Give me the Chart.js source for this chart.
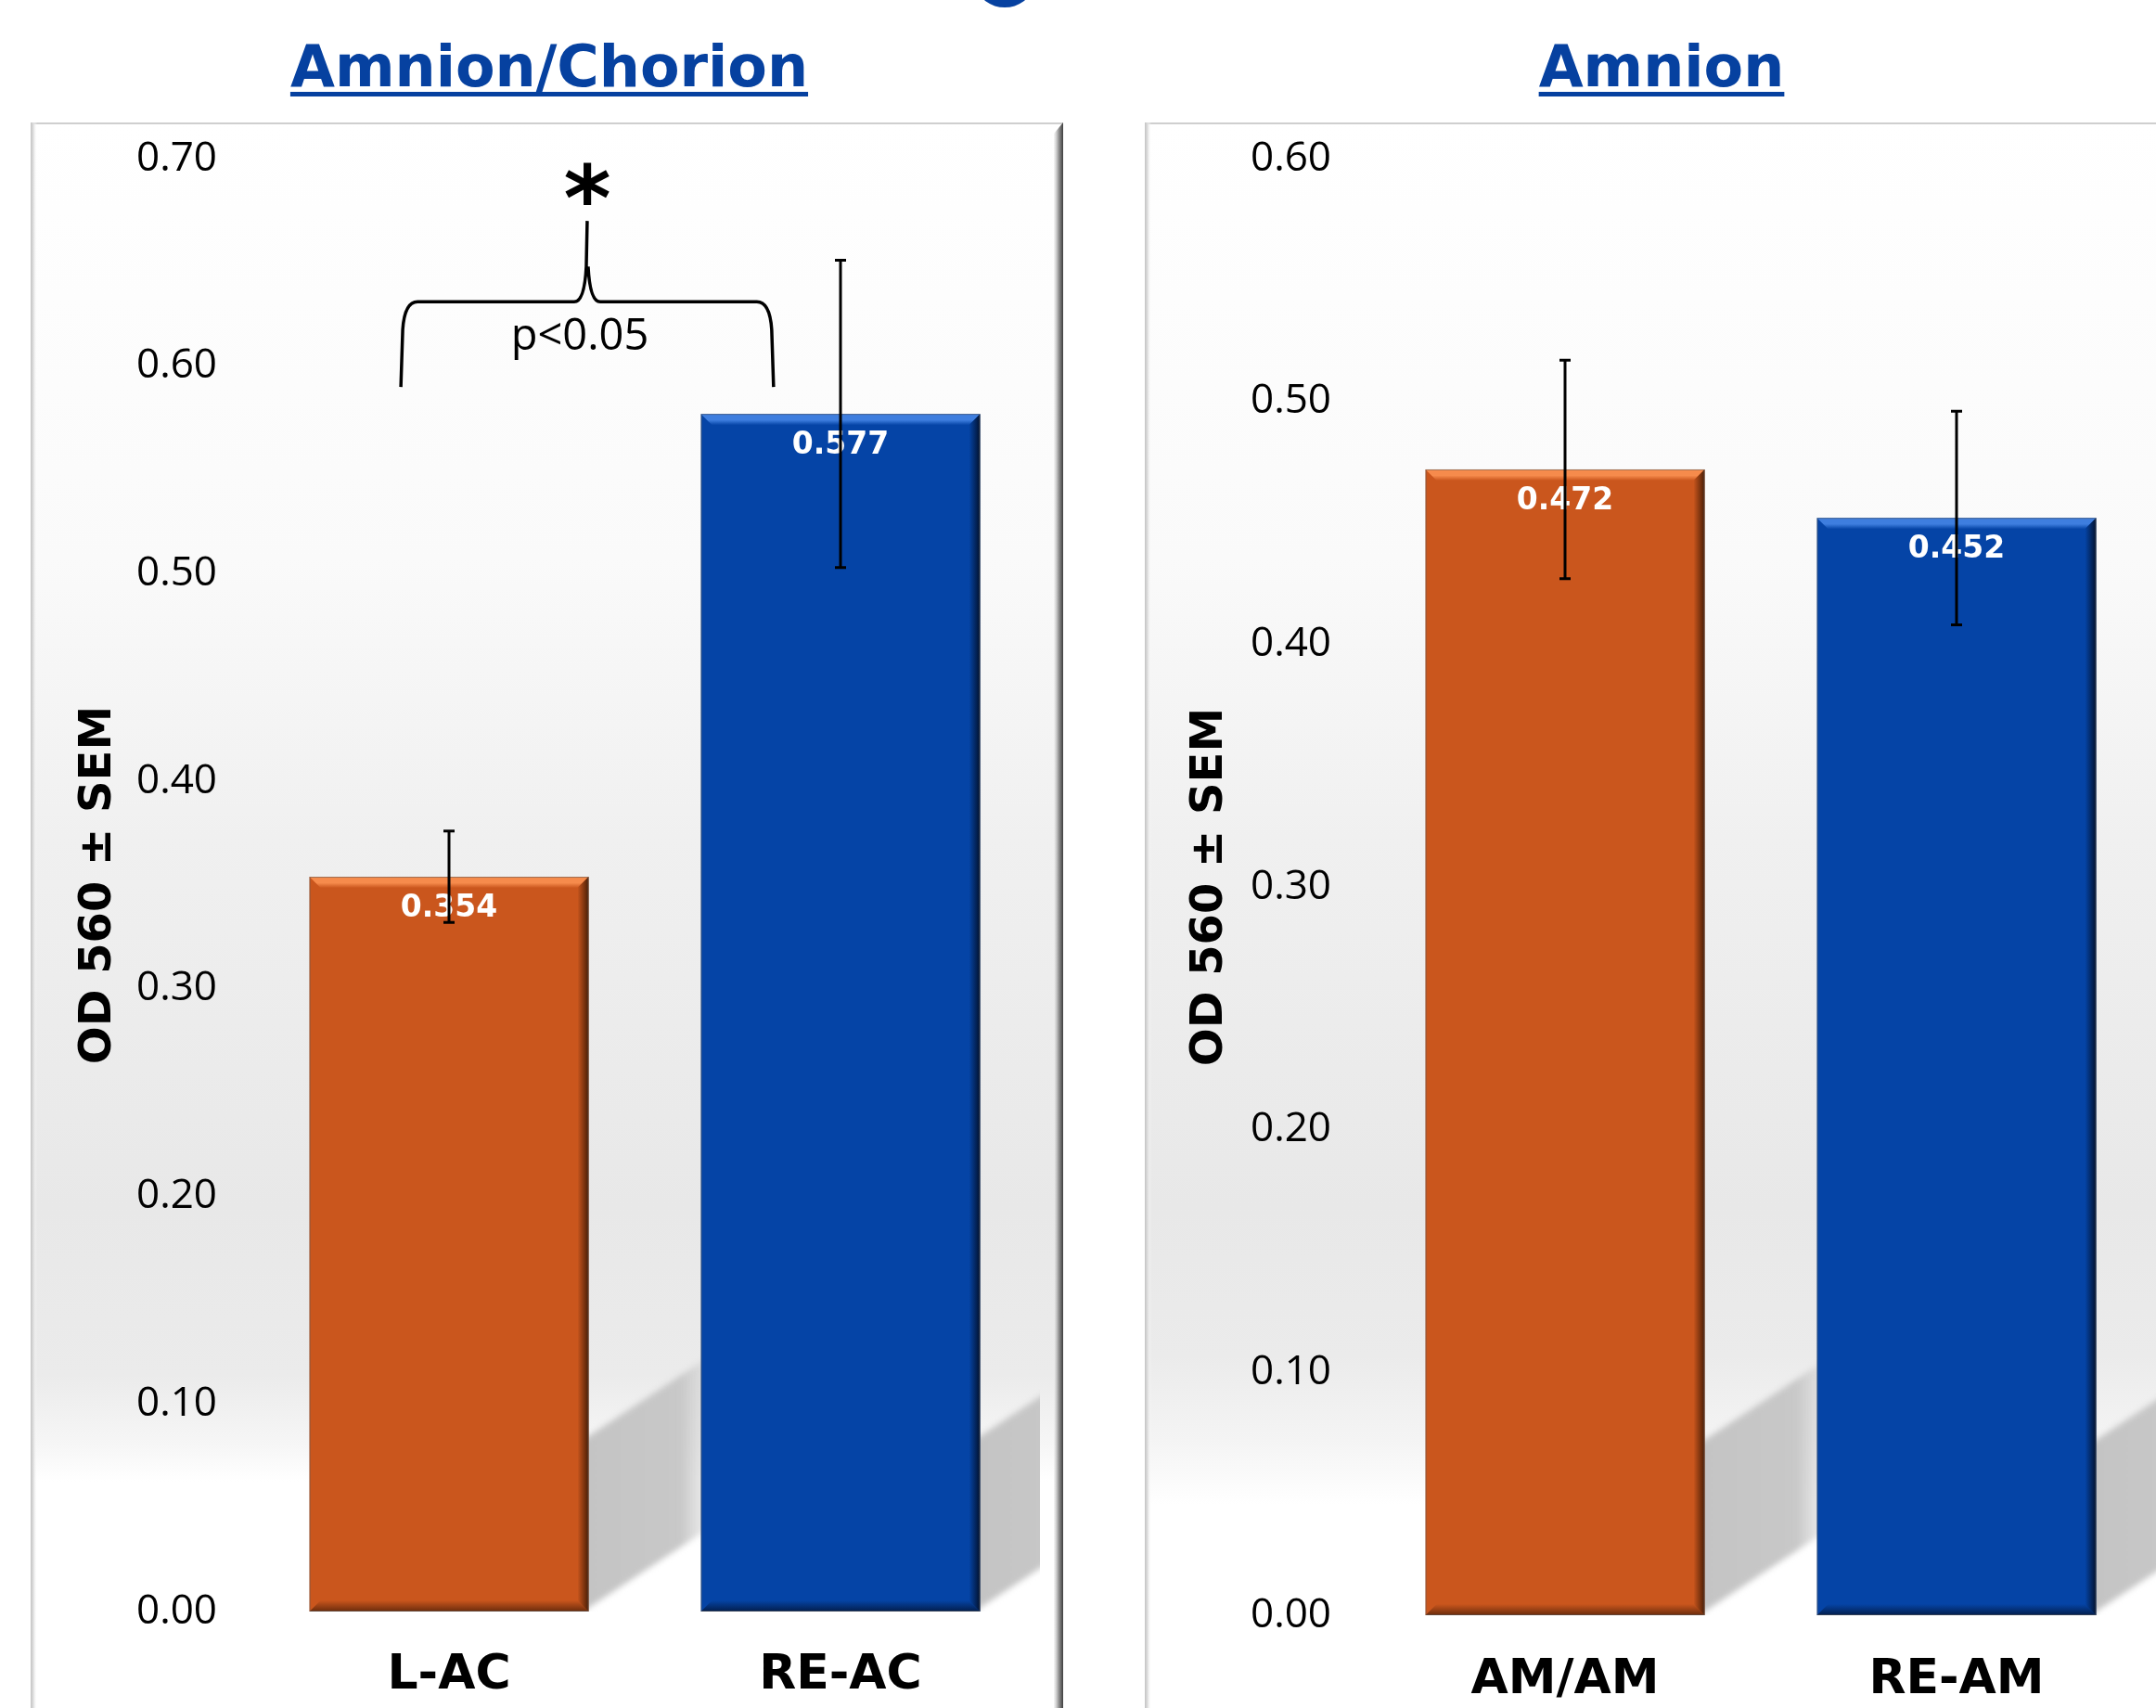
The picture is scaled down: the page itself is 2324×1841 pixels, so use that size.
<!DOCTYPE html>
<html>
<head>
<meta charset="utf-8">
<title>OD 560 - Amnion/Chorion and Amnion</title>
<script src="https://cdn.jsdelivr.net/npm/chart.js@4.4.1/dist/chart.umd.min.js"></script>
<style>
  html, body {
    margin: 0;
    padding: 0;
    background: #fff;
    width: 2324px;
    height: 1841px;
    overflow: hidden;
    position: relative;
  }
  .title {
    position: absolute;
    top: 41px;
    width: 1000px;
    font: bold 62px "DejaVu Sans";
    line-height: 62px;
    color: #0641a0;
    text-align: center;
    white-space: nowrap;
  }
  .title span {
    text-decoration: underline;
    text-decoration-thickness: 5px;
    text-underline-offset: 6px;
  }
  #blob {
    position: absolute;
    left: 1055px;
    top: -34px;
    width: 56px;
    height: 42px;
    border-radius: 50%;
    background: #0641a0;
  }
  canvas { position: absolute; }
</style>
</head>
<body>

<div id="blob"></div>
<div class="title" style="left: 92px;"><span>Amnion/Chorion</span></div>
<div class="title" style="left: 1291px;"><span>Amnion</span></div>

<canvas id="chartAC" width="1113" height="1709" style="left: 33px; top: 132px;"></canvas>
<canvas id="chartAM" width="1143" height="1709" style="left: 1234px; top: 132px;"></canvas>

<script>
// ---- data ----
const categoriesAC = ['L-AC', 'RE-AC'];
const meansAC = [0.354, 0.577];
const semAC = [0.022, 0.074];

const categoriesAM = ['AM/AM', 'RE-AM'];
const meansAM = [0.472, 0.452];
const semAM = [0.045, 0.044];

const yMaxAC = 0.7;
const yMaxAM = 0.6;
const yStep = 0.1;
const yTitle = 'OD 560 ± SEM';

// significance bracket over the Amnion/Chorion bars (x in category units, y in OD units)
const bracketAC = {
    from: -0.123,
    to: 0.829,
    legValue: 0.590,
    barValue: 0.631,
    tipValue: 0.670,
    label: 'p<0.05',
    labelValue: 0.608,
    mark: '*',
    markValue: 0.688
};

const barColors = ['#CA561D', '#0544A6'];
const barLight = ['#F68B4C', '#3E7EDF'];
const barDark = ['#4A1E06', '#02112E'];
const FONT = '"DejaVu Sans"';
const TICK_FONT = '"Open Sans"';


// Panel background: grey "wall" gradient with a bevelled frame.
const panelPlugin = {
    id: 'panel',
    beforeDraw(chart, args, opts) {
        const {ctx, width, height} = chart;
        ctx.save();
        ctx.fillStyle = '#fff';
        ctx.fillRect(0, 0, width, height);

        const g = ctx.createLinearGradient(0, 0, 0, height);
        for (const [y, c] of opts.stops) {
            g.addColorStop(Math.min(1, Math.max(0, y / height)), c);
        }
        ctx.fillStyle = g;
        ctx.fillRect(0, 0, width, height);

        // top edge
        ctx.fillStyle = '#cfcfcf';
        ctx.fillRect(0, 0, width, 2);

        // left edge
        const gl = ctx.createLinearGradient(0, 0, 7, 0);
        gl.addColorStop(0, '#c4c4c4');
        gl.addColorStop(0.4, '#dcdcdc');
        gl.addColorStop(1, 'rgba(255,255,255,0)');
        ctx.fillStyle = gl;
        ctx.fillRect(0, 0, 7, height);

        // right bevel
        if (opts.rightBevel) {
            const bw = 10;
            const gr = ctx.createLinearGradient(width - bw, 0, width, 0);
            gr.addColorStop(0, 'rgba(240,240,240,0.6)');
            gr.addColorStop(0.5, '#9a9a9a');
            gr.addColorStop(1, '#3e3e3e');
            ctx.fillStyle = gr;
            ctx.beginPath();
            ctx.moveTo(width - bw, bw + 2);
            ctx.lineTo(width, 0);
            ctx.lineTo(width, height);
            ctx.lineTo(width - bw, height);
            ctx.closePath();
            ctx.fill();
        }
        ctx.restore();
    }
};


// Cast shadows behind the bars, then bevels, value labels and error bars on top.
const barDecorPlugin = {
    id: 'barDecor',
    beforeDatasetsDraw(chart) {
        const {ctx, chartArea} = chart;
        const meta = chart.getDatasetMeta(0);
        ctx.save();
        ctx.beginPath();
        ctx.rect(chartArea.left, chartArea.top, chartArea.right - chartArea.left + 4, chartArea.bottom - chartArea.top);
        ctx.clip();
        ctx.filter = 'blur(3px)';
        for (const bar of meta.data) {
            const {x, base, width} = bar.getProps(['x', 'base', 'width'], true);
            const r = x + width / 2 - 6;
            const len = 150;
            const thick = 185;
            const slope = 0.66;
            const g = ctx.createLinearGradient(r, 0, r + len, 0);
            g.addColorStop(0, 'rgba(196,196,196,1)');
            g.addColorStop(0.7, 'rgba(200,200,200,1)');
            g.addColorStop(1, 'rgba(210,210,210,0)');
            ctx.fillStyle = g;
            ctx.beginPath();
            ctx.moveTo(r, base);
            ctx.lineTo(r, base - thick);
            ctx.lineTo(r + len, base - thick - len * slope);
            ctx.lineTo(r + len, base - len * slope);
            ctx.closePath();
            ctx.fill();
        }
        ctx.restore();
    },
    afterDatasetsDraw(chart) {
        const {ctx} = chart;
        const yScale = chart.scales.y;
        const dataset = chart.data.datasets[0];
        const meta = chart.getDatasetMeta(0);
        const b = 12;

        meta.data.forEach((bar, i) => {
            const {x, y, base, width} = bar.getProps(['x', 'y', 'base', 'width'], true);
            const left = x - width / 2;
            const right = x + width / 2;
            ctx.save();

            // top bevel
            let g = ctx.createLinearGradient(0, y, 0, y + b);
            g.addColorStop(0, barLight[i]);
            g.addColorStop(0.55, barLight[i]);
            g.addColorStop(1, barColors[i]);
            ctx.fillStyle = g;
            ctx.beginPath();
            ctx.moveTo(left, y);
            ctx.lineTo(right, y);
            ctx.lineTo(right - b, y + b);
            ctx.lineTo(left + b, y + b);
            ctx.closePath();
            ctx.fill();

            // right bevel
            g = ctx.createLinearGradient(right - b, 0, right, 0);
            g.addColorStop(0, barColors[i]);
            g.addColorStop(1, barDark[i]);
            ctx.fillStyle = g;
            ctx.beginPath();
            ctx.moveTo(right, y);
            ctx.lineTo(right, base);
            ctx.lineTo(right - b, base - b);
            ctx.lineTo(right - b, y + b);
            ctx.closePath();
            ctx.fill();

            // bottom bevel
            g = ctx.createLinearGradient(0, base - b, 0, base);
            g.addColorStop(0, barColors[i]);
            g.addColorStop(1, barDark[i]);
            ctx.globalAlpha = 0.75;
            ctx.fillStyle = g;
            ctx.beginPath();
            ctx.moveTo(left, base);
            ctx.lineTo(right, base);
            ctx.lineTo(right - b, base - b);
            ctx.lineTo(left + b, base - b);
            ctx.closePath();
            ctx.fill();
            ctx.globalAlpha = 1;

            // thin outline
            ctx.strokeStyle = 'rgba(90,90,90,0.55)';
            ctx.lineWidth = 1;
            ctx.strokeRect(left + 0.5, y + 0.5, width - 1, base - y - 1);

            // value label
            ctx.fillStyle = '#fff';
            ctx.font = 'bold 33px ' + FONT;
            ctx.textAlign = 'center';
            ctx.textBaseline = 'middle';
            ctx.fillText(dataset.data[i].toFixed(3), x, y + 34);

            // error bar
            const hi = yScale.getPixelForValue(dataset.data[i] + dataset.sem[i]);
            const lo = yScale.getPixelForValue(dataset.data[i] - dataset.sem[i]);
            ctx.strokeStyle = '#000';
            ctx.lineWidth = 3;
            ctx.beginPath();
            ctx.moveTo(x, hi);
            ctx.lineTo(x, lo);
            ctx.moveTo(x - 6, hi);
            ctx.lineTo(x + 6, hi);
            ctx.moveTo(x - 6, lo);
            ctx.lineTo(x + 6, lo);
            ctx.stroke();
            ctx.restore();
        });
    }
};


// Curly bracket with p value and asterisk.
const bracketPlugin = {
    id: 'bracket',
    afterDraw(chart) {
        const {ctx} = chart;
        const xs = chart.scales.x;
        const ys = chart.scales.y;
        const br = bracketAC;

        const xl = xs.getPixelForValue(br.from);
        const xr = xs.getPixelForValue(br.to);
        const xc = (xl + xr) / 2;
        const yLeg = ys.getPixelForValue(br.legValue);
        const yBar = ys.getPixelForValue(br.barValue);
        const yTip = ys.getPixelForValue(br.tipValue);

        ctx.save();
        ctx.strokeStyle = '#000';
        ctx.lineWidth = 3.5;
        ctx.lineJoin = 'round';
        ctx.beginPath();
        ctx.moveTo(xl, yLeg);
        ctx.lineTo(xl + 2, yBar + 30);
        ctx.quadraticCurveTo(xl + 4, yBar, xl + 18, yBar);
        ctx.lineTo(xc - 14, yBar);
        ctx.quadraticCurveTo(xc - 3, yBar, xc - 1, yBar - 38);
        ctx.lineTo(xc, yTip);
        ctx.moveTo(xc + 1, yBar - 38);
        ctx.quadraticCurveTo(xc + 3, yBar, xc + 14, yBar);
        ctx.lineTo(xr - 18, yBar);
        ctx.quadraticCurveTo(xr - 4, yBar, xr - 2, yBar + 30);
        ctx.lineTo(xr, yLeg);
        ctx.stroke();

        ctx.fillStyle = '#000';
        ctx.textAlign = 'center';
        ctx.textBaseline = 'alphabetic';
        ctx.font = '47px ' + TICK_FONT;
        ctx.fillText(br.label, xc - 8, ys.getPixelForValue(br.labelValue));

        // size the asterisk so its glyph is about 46px tall
        ctx.font = 'bold 100px ' + FONT;
        let m = ctx.measureText(br.mark);
        const size = 100 * 46 / (m.actualBoundingBoxAscent + m.actualBoundingBoxDescent);
        ctx.font = 'bold ' + size + 'px ' + FONT;
        m = ctx.measureText(br.mark);
        const yMark = ys.getPixelForValue(br.markValue);
        const baseY = yMark + (m.actualBoundingBoxAscent - m.actualBoundingBoxDescent) / 2;
        ctx.fillText(br.mark, xc, baseY);
        ctx.restore();
    }
};


function makePanel(canvasId, labels, means, sem, yMax, layout, extraPlugins, panelOpts) {
    const canvas = document.getElementById(canvasId);

    let config = {
        type: 'bar',
        data: {
            labels: labels,
            datasets: [
                {
                    data: means,
                    sem: sem,
                    backgroundColor: barColors,
                    borderWidth: 0,
                    barPercentage: 0.713,
                    categoryPercentage: 1.0
                }
            ]
        },
        options: {
            responsive: false,
            animation: false,
            layout: {
                padding: {left: 0, right: layout.right, top: layout.top, bottom: 0}
            },
            plugins: {
                legend: {display: false},
                tooltip: {enabled: false},
                panel: panelOpts
            },
            scales: {
                x: {
                    grid: {display: false},
                    border: {display: false},
                    ticks: {
                        color: '#000',
                        font: {family: FONT, size: 52, weight: 'bold'},
                        padding: layout.xPad
                    },
                    afterFit: (scale) => { scale.height = layout.xHeight; }
                },
                y: {
                    min: 0,
                    max: yMax,
                    grid: {display: false},
                    border: {display: false},
                    ticks: {
                        stepSize: yStep,
                        color: '#000',
                        font: {family: TICK_FONT, size: 44},
                        padding: layout.yPad,
                        callback: (v) => v.toFixed(2)
                    },
                    title: {
                        display: true,
                        text: yTitle,
                        color: '#000',
                        font: {family: FONT, size: 48, weight: 'bold'},
                        padding: {top: layout.titlePad, bottom: 0}
                    },
                    afterFit: (scale) => {
                        // fixed axis width; the top/bottom tick labels must not push the plot area
                        scale.width = layout.yWidth;
                        scale.paddingTop = 0;
                        scale.paddingBottom = 0;
                    }
                }
            }
        },
        plugins: [panelPlugin, barDecorPlugin].concat(extraPlugins)
    };

    return new Chart(canvas, config);
}


makePanel('chartAC', categoriesAC, meansAC, semAC, yMaxAC,
    {right: 29, top: 39, xHeight: 104, xPad: 30, yPad: 31, yWidth: 240, titlePad: 45},
    [bracketPlugin],
    {
        rightBevel: true,
        stops: [[0, '#ffffff'], [470, '#fafafa'], [770, '#f0f0f0'], [1170, '#e8e8e8'],
                [1350, '#ebebeb'], [1425, '#f6f6f6'], [1465, '#ffffff'], [1709, '#ffffff']]
    });

makePanel('chartAM', categoriesAM, meansAM, semAM, yMaxAM,
    {right: 57, top: 39, xHeight: 100, xPad: 31, yPad: 33, yWidth: 242, titlePad: 42},
    [],
    {
        rightBevel: false,
        stops: [[0, '#ffffff'], [470, '#fafafa'], [770, '#f0f0f0'], [1170, '#e8e8e8'],
                [1330, '#ebebeb'], [1420, '#f4f4f4'], [1490, '#ffffff'], [1709, '#ffffff']]
    });
</script>
</body>
</html>
